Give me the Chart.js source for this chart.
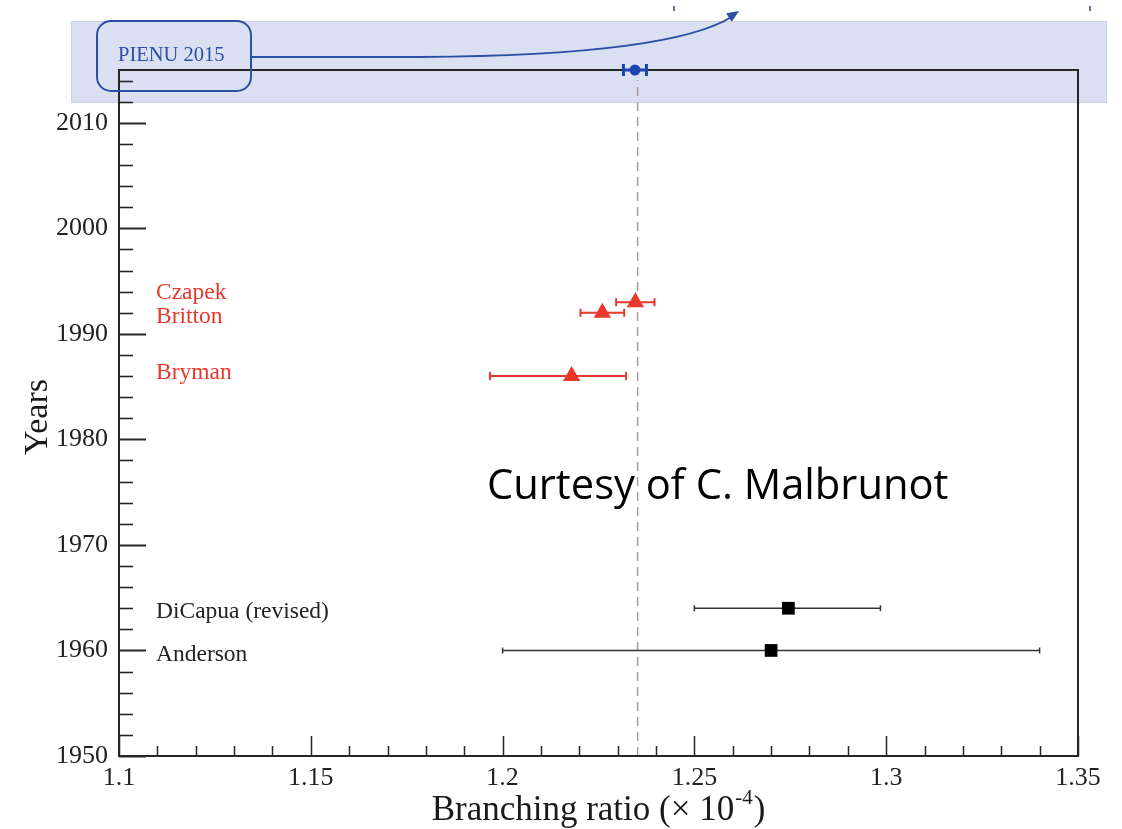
<!DOCTYPE html>
<html><head><meta charset="utf-8">
<script src="https://cdn.jsdelivr.net/npm/chart.js@4.4.1/dist/chart.umd.min.js"></script>
<style>html,body{margin:0;padding:0;background:#fff;}#wrap{width:1122px;height:829px;position:relative;}</style>
</head><body><div id="wrap"><canvas id="c" width="1122" height="829"></canvas></div>
<script>
// ---- data ----
const experiments = ['PIENU 2015','Czapek','Britton','Bryman','DiCapua (revised)','Anderson'];
const groups      = ['pienu','red','red','red','black','black'];
const years       = [2015, 1993, 1992, 1986, 1964, 1960];
const ratios      = [1.2345, 1.2346, 1.2260, 1.2180, 1.2745, 1.2700];
const errLow      = [0.0030, 0.0050, 0.0057, 0.0213, 0.0245, 0.0700];
const errHigh     = [0.0030, 0.0050, 0.0057, 0.0142, 0.0240, 0.0700];
const smValue     = 1.2352;
const xTickValues = [1.1, 1.15, 1.2, 1.25, 1.3, 1.35];
const xTickLabels = ['1.1','1.15','1.2','1.25','1.3','1.35'];
const yTickValues = [1950, 1960, 1970, 1980, 1990, 2000, 2010];
const yTickLabels = ['1950','1960','1970','1980','1990','2000','2010'];
const xTitle = 'Branching ratio (\u00d7 10';
const xTitleSup = '-4';
const yTitle = 'Years';
const noteText = 'Curtesy of C. Malbrunot';

// ---- styles / layout (not data) ----
const COL = {red:'#E8372B', black:'#1a1a1a', pienu:'#1E44AE'};
const labelOffsetPx = {'Czapek':-3,'Britton':10,'Bryman':3,'DiCapua (revised)':10,'Anderson':11};
const SERIF = '"Liberation Serif","DejaVu Serif",serif';

function idxOf(g){ return groups.map((v,i)=>v===g?i:-1).filter(i=>i>=0); }
function pts(g){ return idxOf(g).map(i=>({x:ratios[i], y:years[i]})); }

const decor = {
  id:'decor',
  beforeDatasetsDraw(chart){
    const ctx=chart.ctx, a=chart.chartArea, xs=chart.scales.x, ys=chart.scales.y;
    ctx.save();
    // highlight band
    ctx.fillStyle='rgba(60,90,180,0.19)';
    ctx.fillRect(71,21,1036,82);
    ctx.strokeStyle='rgba(60,90,180,0.10)'; ctx.lineWidth=1;
    ctx.strokeRect(71.5,21.5,1035,81);
    // SM dashed line
    const sx=xs.getPixelForValue(smValue);
    ctx.strokeStyle='#A89C94'; ctx.lineWidth=1.5; ctx.setLineDash([9,6]);
    ctx.beginPath(); ctx.moveTo(sx,a.bottom); ctx.lineTo(sx,a.top+10); ctx.stroke();
    ctx.setLineDash([]);
    // frame
    ctx.strokeStyle='#262626'; ctx.lineWidth=2;
    ctx.strokeRect(a.left,a.top,a.right-a.left,a.bottom-a.top);
    // y ticks (inward)
    for(let v=ys.min; v<ys.max; v+=2){
      const y=Math.round(ys.getPixelForValue(v))+0.5;
      const major = (v%10===0);
      ctx.lineWidth = major?2:1.6;
      ctx.beginPath(); ctx.moveTo(a.left,y); ctx.lineTo(a.left+(major?27:14),y); ctx.stroke();
    }
    // x ticks (inward)
    for(let k=0;k<=25;k++){
      const v=xs.min+k*0.01;
      const x=Math.round(xs.getPixelForValue(v))+0.5;
      const major=(k%5===0);
      ctx.lineWidth=1.5;
      ctx.beginPath(); ctx.moveTo(x,a.bottom); ctx.lineTo(x,a.bottom-(major?20:10)); ctx.stroke();
    }
    // error bars
    experiments.forEach((name,i)=>{
      const g=groups[i];
      const y=ys.getPixelForValue(years[i]);
      const x1=xs.getPixelForValue(ratios[i]-errLow[i]);
      const x2=xs.getPixelForValue(ratios[i]+errHigh[i]);
      ctx.strokeStyle=g==='black'?'#333':COL[g];
      ctx.lineWidth = g==='black'?1.5:(g==='red'?2:3);
      const cap = g==='black'?3:(g==='red'?4:6);
      ctx.beginPath(); ctx.moveTo(x1,y); ctx.lineTo(x2,y);
      ctx.moveTo(x1,y-cap); ctx.lineTo(x1,y+cap);
      ctx.moveTo(x2,y-cap); ctx.lineTo(x2,y+cap);
      ctx.stroke();
    });
    ctx.restore();
  },
  afterDraw(chart){
    const ctx=chart.ctx, a=chart.chartArea, xs=chart.scales.x, ys=chart.scales.y;
    ctx.save();
    // experiment labels
    const lx = a.left+37;
    experiments.forEach((name,i)=>{
      if(groups[i]==='pienu') return;
      const y=ys.getPixelForValue(years[i])+labelOffsetPx[name];
      ctx.fillStyle = groups[i]==='red'?COL.red:'#222';
      ctx.font='23.5px '+SERIF; ctx.textAlign='left'; ctx.textBaseline='alphabetic';
      ctx.fillText(name,lx,y);
    });
    // axis titles
    ctx.fillStyle='#1a1a1a';
    ctx.font='35px '+SERIF;
    const w1=ctx.measureText(xTitle).width;
    ctx.font='21px '+SERIF; const w2=ctx.measureText(xTitleSup).width;
    ctx.font='35px '+SERIF; const w3=ctx.measureText(')').width;
    const cx=(a.left+a.right)/2; let tx=cx-(w1+w2+w3+2)/2; const tb=820;
    ctx.textAlign='left'; ctx.textBaseline='alphabetic';
    ctx.fillText(xTitle,tx,tb); tx+=w1+1;
    ctx.font='21px '+SERIF; ctx.fillText(xTitleSup,tx,tb-16); tx+=w2+1;
    ctx.font='35px '+SERIF; ctx.fillText(')',tx,tb);
    ctx.save(); ctx.translate(47,(a.top+a.bottom)/2+4); ctx.rotate(-Math.PI/2);
    ctx.textAlign='center'; ctx.textBaseline='alphabetic'; ctx.font='34px '+SERIF;
    ctx.fillText(yTitle,0,0); ctx.restore();
    // note text
    ctx.font='40px "Open Sans"'; const nw=ctx.measureText(noteText).width;
    const ns=40*462/nw; ctx.font=ns.toFixed(1)+'px "Open Sans"';
    ctx.fillStyle='#000'; ctx.fillText(noteText,487,499);
    // PIENU rounded box + label + arrow
    ctx.strokeStyle='#2C4FA6'; ctx.lineWidth=2;
    ctx.beginPath(); ctx.roundRect(97,21,154,70,14); ctx.stroke();
    ctx.fillStyle='#2C4FA6'; ctx.font='20.5px '+SERIF; ctx.textBaseline='alphabetic';
    ctx.fillText(experiments[0],118,61);
    ctx.beginPath(); ctx.moveTo(252,57); ctx.lineTo(420,57);
    ctx.bezierCurveTo(580,56,690,44,733,16); ctx.stroke();
    // arrow head
    const ang=Math.atan2(16-44,733-690);
    ctx.beginPath(); ctx.moveTo(739,11);
    ctx.lineTo(739-13*Math.cos(ang-0.4),11-13*Math.sin(ang-0.4));
    ctx.lineTo(739-13*Math.cos(ang+0.4),11-13*Math.sin(ang+0.4));
    ctx.closePath(); ctx.fill();
    // small cut-off marks at top
    ctx.fillStyle='#6a6fc0'; ctx.fillRect(673,6,2,5); ctx.fillRect(1089,6,2,5);
    ctx.restore();
  }
};

new Chart(document.getElementById('c'),{
  type:'scatter',
  data:{datasets:[
    {label:'red', data:pts('red'), pointStyle:'triangle', pointRadius:10, pointBackgroundColor:COL.red, pointBorderColor:COL.red, pointBorderWidth:0},
    {label:'black', data:pts('black'), pointStyle:'rect', pointRadius:9, pointBackgroundColor:'#000', pointBorderColor:'#000', pointBorderWidth:0},
    {label:'pienu', data:pts('pienu'), pointStyle:'circle', pointRadius:5.5, pointBackgroundColor:COL.pienu, pointBorderColor:COL.pienu, pointBorderWidth:0}
  ].map(d=>Object.assign(d,{clip:false,pointHoverRadius:d.pointRadius}))},
  options:{
    responsive:false, animation:false, devicePixelRatio:1,
    layout:{padding:{top:70,right:44,left:0,bottom:0}},
    plugins:{legend:{display:false},tooltip:{enabled:false}},
    scales:{
      x:{type:'linear',position:'bottom',min:1.1,max:1.35,
        grid:{display:false,drawTicks:false},border:{display:false},
        afterBuildTicks:s=>{s.ticks=xTickValues.map(v=>({value:v}));},
        afterFit:s=>{s.height=73;},
        ticks:{autoSkip:false,maxRotation:0,minRotation:0,padding:7,color:'#222',
          font:{family:SERIF,size:26},callback:(v,i)=>xTickLabels[i]}},
      y:{type:'linear',position:'left',min:1950,max:2015,
        grid:{display:false,drawTicks:false},border:{display:false},
        afterBuildTicks:s=>{s.ticks=yTickValues.map(v=>({value:v}));},
        afterFit:s=>{s.width=119;},
        ticks:{autoSkip:false,padding:11,color:'#222',
          font:{family:SERIF,size:26},callback:(v,i)=>yTickLabels[i]}}
    }
  },
  plugins:[decor]
});
</script></body></html>
